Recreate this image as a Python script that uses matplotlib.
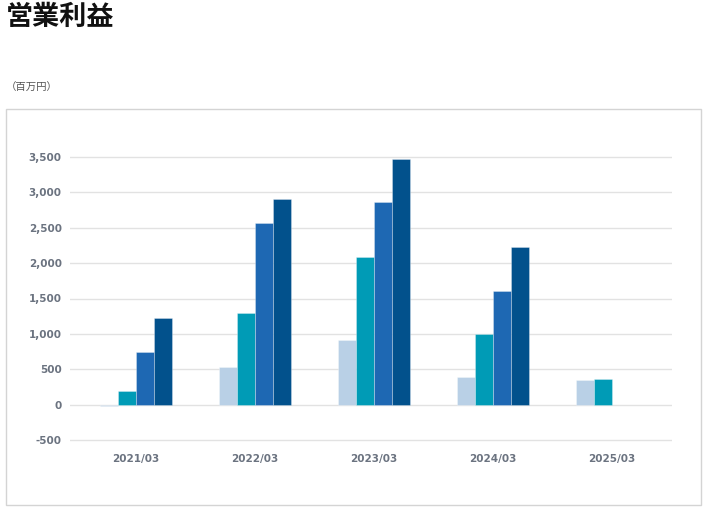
import matplotlib
matplotlib.use("Agg")
import matplotlib.pyplot as plt
import numpy as np
from matplotlib.patches import Rectangle

plt.rcParams['font.family'] = ['Noto Sans CJK JP', 'DejaVu Sans']

# data (百万円)
years = ['2021/03', '2022/03', '2023/03', '2024/03', '2025/03']
q1 = [-20, 527, 917, 386, 353]
q2 = [197, 1294, 2084, 997, 357]
q3 = [738, 2564, 2865, 1604, None]
q4 = [1218, 2903, 3467, 2234, None]
colors = ['#b9d0e6', '#009bb6', '#1e68b3', '#02518c']
yticks = [-500, 0, 500, 1000, 1500, 2000, 2500, 3000, 3500]

W, H = 708, 515
fig = plt.figure(figsize=(W / 100, H / 100), dpi=100)

# outer box
fig.patches.append(Rectangle((6 / W, 1 - 505 / H), 695 / W, 396 / H,
                             transform=fig.transFigure, fill=False,
                             edgecolor='#d4d4d4', linewidth=1))

fig.text(6 / W, 1 - 17 / H, '営業利益', fontsize=19.5, fontweight='bold',
         color='#111111', va='center', ha='left')
fig.text(6 / W, 1 - 88 / H, '（百万円）', fontsize=7.5, color='#555555',
         va='center', ha='left')

# axes spans y px 155..443 so the -500 and 3500 grid lines are not clipped
ppx = 4000 / (440 - 157)
ax = fig.add_axes([70 / W, 1 - 443 / H, 602 / W, (443 - 155) / H])
x = np.arange(len(years))
bw = 0.151
series = [q1, q2, q3, q4]
for i, s in enumerate(series):
    xs = [xi + (i - 1.5) * bw for xi, v in zip(x, s) if v is not None]
    vs = [v for v in s if v is not None]
    ax.bar(xs, vs, width=bw, color=colors[i], edgecolor=(1, 1, 1, 0.35),
           linewidth=0.6, zorder=3)

ax.set_ylim(-500 - 3 * ppx, 3500 + 2 * ppx)
ax.set_xlim(-0.555, 4.504)
ax.set_yticks(yticks)
ax.set_yticklabels([f'{v:,}' for v in yticks])
ax.set_xticks(x)
ax.set_xticklabels(years)
ax.grid(axis='y', color='#e2e2e2', linewidth=1, zorder=0)
for sp in ax.spines.values():
    sp.set_visible(False)
ax.tick_params(axis='both', length=0, labelsize=7.5, labelcolor='#6b7380')
ax.tick_params(axis='y', pad=6)
ax.tick_params(axis='x', pad=8)
for lab in ax.get_xticklabels() + ax.get_yticklabels():
    lab.set_fontweight('bold')
    lab.set_family(['DejaVu Sans'])

fig.savefig('out.png', dpi=100)
